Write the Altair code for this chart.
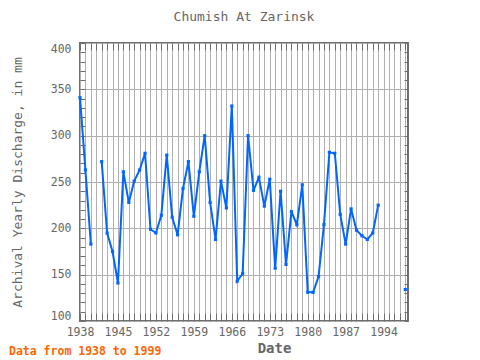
import altair as alt
import pandas as pd

# ---- data ----
years = [1938, 1939, 1940,
         1942, 1943, 1944, 1945, 1946, 1947, 1948, 1949, 1950, 1951, 1952, 1953,
         1954, 1955, 1956, 1957, 1958, 1959, 1960, 1961, 1962, 1963, 1964, 1965,
         1966, 1967, 1968, 1969, 1970, 1971, 1972, 1973, 1974, 1975, 1976, 1977,
         1978, 1979, 1980, 1981, 1982, 1983, 1984, 1985, 1986, 1987, 1988, 1989,
         1990, 1991, 1992, 1993,
         1998]
discharge = [341, 263, 183,
             272, 195, 175, 141, 261, 228, 251, 263, 281, 199, 195, 214,
             279, 212, 193, 243, 272, 213, 261, 300, 228, 188, 251, 222,
             332, 143, 151, 300, 241, 255, 224, 253, 157, 240, 161, 218,
             204, 247, 131, 131, 148, 204, 282, 281, 215, 183, 221, 198,
             192, 188, 195, 225,
             134]
segment = [0, 0, 0] + [1] * 52 + [2]

tick_years = list(range(1938, 1999))
y_ticks = list(range(100, 401, 10))

title_text = "Chumish At Zarinsk"
x_title = "Date"
y_title = "Archival Yearly Discharge, in mm"
footer_text = "Data from 1938 to 1999"

df = pd.DataFrame({"year": years, "discharge": discharge, "seg": segment})

FONT = "DejaVu Sans Mono"
GRAY = "#666666"
FRAME = "#6e6e6e"
GRID = "#b0b0b0"
BLUE = "#0066ff"

xscale = alt.Scale(domain=[1938, 1998.5], nice=False, zero=False)
yscale = alt.Scale(domain=[100, 400], nice=False, zero=False)

bottom_axis = alt.Axis(
    orient="bottom", values=tick_years, format="d",
    labelExpr="(datum.value - 1938) % 7 === 0 ? datum.label : ''",
    labelOverlap=False, labelFlush=False,
    tickSize=8, offset=-8, tickColor=FRAME, domain=False,
    grid=True, gridColor=GRID, gridWidth=1,
    labelPadding=5, labelFont=FONT, labelFontSize=11.5, labelColor=GRAY,
    title=x_title, titleFont=FONT, titleFontSize=14, titleFontWeight="bold",
    titleColor=GRAY, titleX=194, titleY=35, titleAlign="center",
    titleBaseline="middle",
)
left_axis = alt.Axis(
    orient="left", values=y_ticks, format="d",
    labelExpr="datum.value % 50 === 0 ? datum.label : ''",
    labelOverlap=False, labelFlush=True,
    tickSize=5, offset=-5, tickColor=FRAME, domain=False,
    grid=True, gridColor=GRID, gridWidth=1,
    gridOpacity={"condition": {"test": "datum.value % 50 === 0", "value": 1}, "value": 0},
    labelPadding=9, labelFont=FONT, labelFontSize=11.5, labelColor=GRAY,
    title=y_title, titleFont=FONT, titleFontSize=13, titleFontWeight="normal",
    titleColor=GRAY, titleX=-68, titleY=139, titleAngle=270,
    titleAlign="center", titleBaseline="middle",
)
top_axis = alt.Axis(
    orient="top", values=tick_years, labels=False, tickSize=7, offset=-7,
    tickColor=FRAME, domain=False, grid=False, title=None,
)
right_axis = alt.Axis(
    orient="right", values=y_ticks, labels=False, tickSize=4, offset=-4,
    tickColor=FRAME, domain=False, grid=False, title=None,
)

base = alt.Chart(df)

line = base.mark_line(color=BLUE, strokeWidth=2).encode(
    x=alt.X("year:Q", scale=xscale, axis=bottom_axis),
    y=alt.Y("discharge:Q", scale=yscale, axis=left_axis),
    detail="seg:N",
)

points = base.mark_square(color=BLUE, size=10, opacity=1).encode(
    x=alt.X("year:Q", scale=xscale, axis=top_axis),
    y=alt.Y("discharge:Q", scale=yscale, axis=right_axis),
)

footer = alt.Chart(pd.DataFrame({"t": [footer_text]})).mark_text(
    align="left", baseline="middle", font=FONT, fontSize=11.5,
    fontWeight="bold", color="#ff6600",
).encode(text="t:N", x=alt.value(-71), y=alt.value(309))

chart = alt.layer(line, points, footer).resolve_axis(
    x="independent", y="independent"
).properties(
    width=328, height=278,
    autosize=alt.AutoSizeParams(type="none"),
    padding={"left": 72, "top": 35, "right": 60, "bottom": 40},
    title=alt.TitleParams(title_text, font=FONT, fontSize=13,
                          fontWeight="normal", color=GRAY, anchor="middle",
                          offset=19),
).configure_view(stroke=FRAME, strokeWidth=2)

chart.save("out.html", embed_options={"renderer": "svg", "actions": False})
